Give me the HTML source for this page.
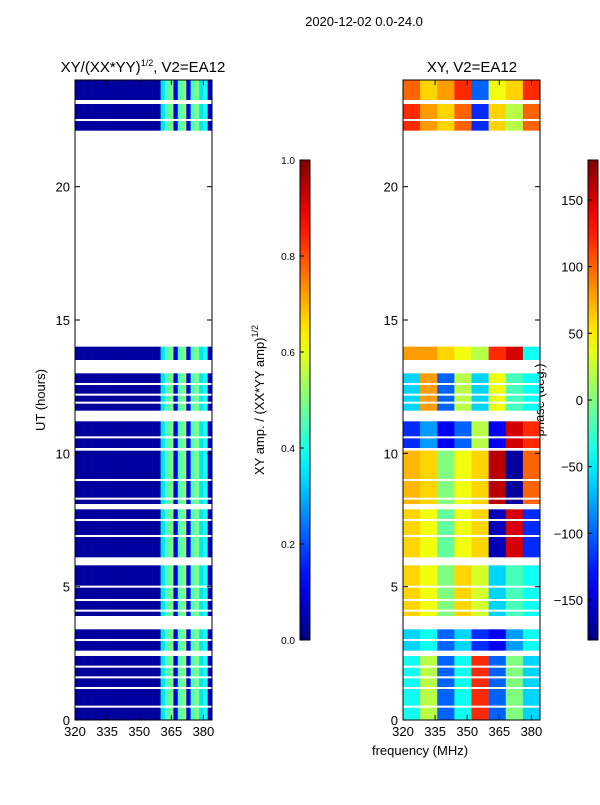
<!DOCTYPE html>
<html><head><meta charset="utf-8"><style>
body{margin:0;background:#fff;font-family:"Liberation Sans",sans-serif}
svg text{font-family:"Liberation Sans","DejaVu Sans",sans-serif;font-size:13px;fill:#000}
</style></head><body>
<svg id="c" width="600" height="800" xmlns="http://www.w3.org/2000/svg">
<rect width="600" height="800" fill="#fff"/>
<text x="364" y="26" text-anchor="middle">2020-12-02 0.0-24.0</text>
<text x="143" y="72" text-anchor="middle" style="font-size:15px">XY/(XX*YY)<tspan style="font-size:9px" dy="-6">1/2</tspan><tspan dy="6">, V2=EA12</tspan></text>
<text x="472" y="72" text-anchor="middle" style="font-size:15px">XY, V2=EA12</text>
<text transform="translate(45,400) rotate(-90)" text-anchor="middle">UT (hours)</text>
<text x="420" y="755" text-anchor="middle">frequency (MHz)</text>
<text transform="translate(264,400) rotate(-90)" text-anchor="middle">XY amp. / (XX*YY amp)<tspan style="font-size:9px" dy="-6">1/2</tspan></text>
<text transform="translate(544,400) rotate(-90)" text-anchor="middle">phase (deg.)</text>
<g id="g"></g>
</svg>
<script>
// time blocks with data (hours)
const blockStart=[22.1,23.25,13.5,11.6,10.2,8.1,6.1,3.9,2.6,0.0];
const blockEnd=[23.1,24.0,14.0,13.0,11.2,10.1,7.9,5.8,3.4,2.4];
// thin flagged time lines (hours)
const flagTimes=[22.5,13.2,12.6,12.2,11.9,10.6,9.0,8.3,7.5,6.9,5.0,4.5,4.1,3.0,2.0,1.6,1.2,0.5];
// amplitude per 2 MHz channel, 320..384
const ampProfile=[0.03,0.03,0.03,0.03,0.03,0.03,0.03,0.03,0.03,0.03,0.03,0.03,0.03,0.03,0.03,0.03,0.03,0.03,0.03,0.03,0.35,0.45,0.5,0.1,0.45,0.5,0.1,0.45,0.5,0.35,0.4,0.05];
// phase (deg) per block, 8 columns of 8 MHz
const phaseGrid=[
[120,80,60,100,-120,60,20,100],
[100,60,80,120,-100,40,60,120],
[80,80,60,40,20,120,150,-40],
[-60,80,-100,20,-60,40,-20,-40],
[-120,-80,-140,-100,20,-140,150,120],
[70,60,0,40,60,160,-170,100],
[60,40,-10,40,60,-160,150,-120],
[60,40,0,60,30,-60,-20,-40],
[-60,-40,-100,-60,-120,-140,-80,-40],
[-40,20,-100,-40,120,-100,0,-60]];
const yTicks=[0,5,10,15,20];
const xTicks=[320,335,350,365,380];
const ampTicks=[0.0,0.2,0.4,0.6,0.8,1.0];
const phTicks=[-150,-100,-50,0,50,100,150];

const NS="http://www.w3.org/2000/svg",g=document.getElementById('g');
function el(t,a,p){const e=document.createElementNS(NS,t);for(const k in a)e.setAttribute(k,a[k]);(p||g).appendChild(e);return e;}
function jet(v){v=Math.max(0,Math.min(1,v));const f=x=>Math.round(255*Math.max(0,Math.min(1,1.5-Math.abs(4*v-x))));return `rgb(${f(3)},${f(2)},${f(1)})`;}
const Y=h=>720-h*(640/24);
const XL=f=>75+(f-320)*(137/64), XR=f=>403+(f-320)*(137/64);
blockStart.forEach((s,b)=>{
  ampProfile.forEach((a,i)=>{
    const r=el('rect',{x:XL(320+2*i),y:Y(blockEnd[b]),width:XL(322)-XL(320)+0.3,height:Y(s)-Y(blockEnd[b]),fill:jet(a)});
    
    
  });
  phaseGrid[b].forEach((p,i)=>{
    const r=el('rect',{x:XR(320+8*i),y:Y(blockEnd[b]),width:XR(328)-XR(320)+0.3,height:Y(s)-Y(blockEnd[b]),fill:jet((p+180)/360)});
    
    
  });
});
flagTimes.forEach(t=>{
  [75,403].forEach(x0=>{
    const r=el('rect',{x:x0,y:Y(t)-1,width:137,height:2,fill:'#fff'});
    
    
  });
});
[75,403].forEach((x0,k)=>{
  const fr=el('rect',{x:x0,y:80,width:137,height:640,fill:'none',stroke:'#000'});
  
  
  const X=k?XR:XL;
  yTicks.forEach(t=>{
    el('line',{x1:x0,x2:x0+5,y1:Y(t),y2:Y(t),stroke:'#000'});
    el('line',{x1:x0+137,x2:x0+132,y1:Y(t),y2:Y(t),stroke:'#000'});
    const tx=el('text',{x:x0-5,y:Y(t)+5,'text-anchor':'end'});tx.textContent=t;
    
    
  });
  xTicks.forEach(t=>{
    el('line',{x1:X(t),x2:X(t),y1:720,y2:715,stroke:'#000'});
    el('line',{x1:X(t),x2:X(t),y1:80,y2:85,stroke:'#000'});
    const tx=el('text',{x:X(t),y:736,'text-anchor':'middle'});tx.textContent=t;
    
    
  });
});
const defs=el('defs',{});
const gr=el('linearGradient',{id:'jg',x1:0,y1:1,x2:0,y2:0},defs);
for(let i=0;i<=20;i++)el('stop',{offset:i/20,'stop-color':jet(i/20)},gr);
[[300,'amp-colorbar'],[588,'phase-colorbar']].forEach(([x,n])=>{
  const r=el('rect',{x:x,y:160,width:10,height:480,fill:'url(#jg)',stroke:'#000'});
  
  
});
ampTicks.forEach(t=>{const y=640-t*480;el('line',{x1:300,x2:304,y1:y,y2:y,stroke:'#000'});
  const tx=el('text',{x:295,y:y+4,'text-anchor':'end'});tx.style.fontSize='10px';tx.textContent=t.toFixed(1);
  
  });
phTicks.forEach(t=>{const y=640-(t+180)/360*480;el('line',{x1:588,x2:592,y1:y,y2:y,stroke:'#000'});
  const tx=el('text',{x:583,y:y+5,'text-anchor':'end'});tx.textContent=t<0?'\u2212'+(-t):t;
  
  });
</script>
</body></html>
